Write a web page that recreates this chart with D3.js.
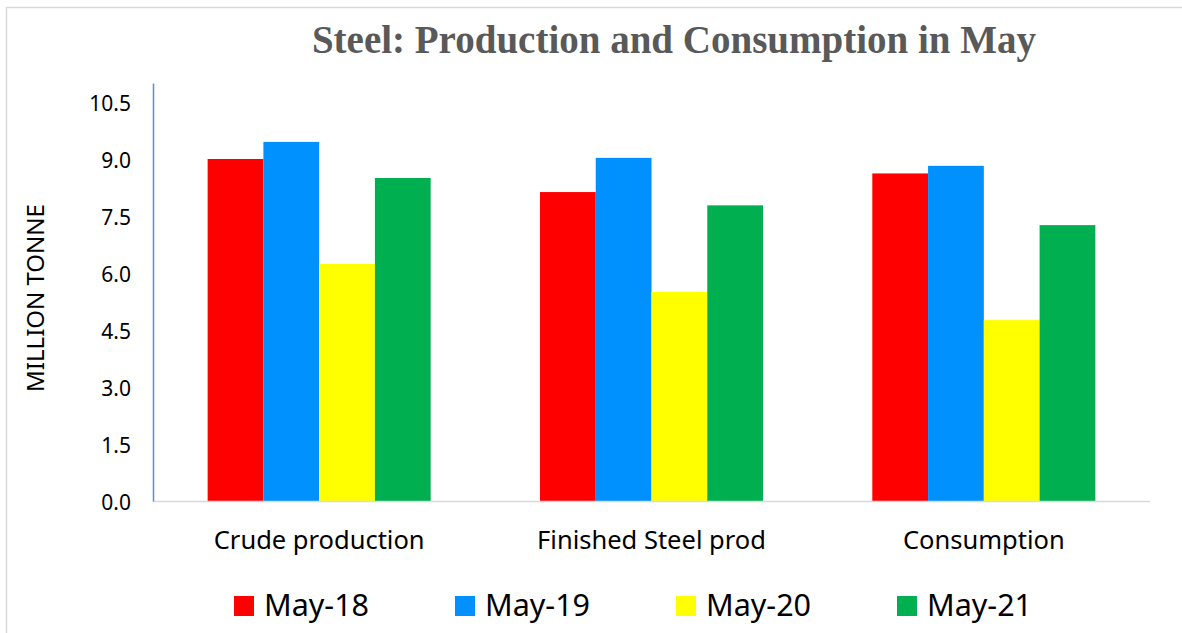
<!DOCTYPE html>
<html>
<head>
<meta charset="utf-8">
<script src="https://cdn.jsdelivr.net/npm/d3@7"></script>
<style>
  html, body { margin: 0; padding: 0; background: #ffffff; }
  svg { display: block; }
</style>
</head>
<body>
<svg id="chart" width="1182" height="633"></svg>
<script>
// chart data
var categories = ['Crude production', 'Finished Steel prod', 'Consumption'];
var seriesNames = ['May-18', 'May-19', 'May-20', 'May-21'];
var seriesColors = ['#ff0000', '#0091ff', '#ffff00', '#00b050'];
var may18 = [9.0, 8.13, 8.62];
var may19 = [9.45, 9.03, 8.82];
var may20 = [6.24, 5.5, 4.76];
var may21 = [8.5, 7.78, 7.26];
var tickValues = [0, 1.5, 3.0, 4.5, 6.0, 7.5, 9.0, 10.5];

var seriesValues = [may18, may19, may20, may21];

var svg = d3.select('#chart');
var font = '"Noto Sans", "Open Sans", sans-serif';

// outer frame
svg.append('rect')
    .attr('x', 6.5).attr('y', 7.5)
    .attr('width', 1190).attr('height', 640)
    .attr('fill', 'none')
    .attr('stroke', '#d9d9d9')
    .attr('stroke-width', 1.5);

var plot = {left: 153, right: 1150, top: 83, bottom: 501};

var x0 = d3.scaleBand()
    .domain(categories)
    .range([plot.left, plot.right])
    .padding(0);

var x1 = d3.scaleBand()
    .domain(seriesNames)
    .range([0, x0.bandwidth()])
    .paddingInner(0)
    .paddingOuter(0.98);

var y = d3.scaleLinear()
    .domain([0, 11])
    .range([plot.bottom, plot.top]);

// title
svg.append('text')
    .attr('x', 674).attr('y', 53)
    .attr('text-anchor', 'middle')
    .attr('font-family', '"Liberation Serif", "DejaVu Serif", serif')
    .attr('font-weight', 'bold')
    .attr('font-size', 39)
    .attr('fill', '#595959')
    .text('Steel: Production and Consumption in May');

// bars
var groups = svg.append('g').selectAll('g')
    .data(categories)
    .join('g')
    .attr('transform', function(d) { return 'translate(' + x0(d) + ',0)'; });

groups.selectAll('rect')
    .data(function(d, i) {
        return seriesNames.map(function(s, j) {
            return {series: s, value: seriesValues[j][i], color: seriesColors[j]};
        });
    })
    .join('rect')
    .attr('x', function(d) { return x1(d.series); })
    .attr('y', function(d) { return y(d.value); })
    .attr('width', x1.bandwidth())
    .attr('height', function(d) { return y(0) - y(d.value); })
    .attr('fill', function(d) { return d.color; });

// x axis baseline
svg.append('line')
    .attr('x1', plot.left).attr('x2', plot.right)
    .attr('y1', plot.bottom + 0.5).attr('y2', plot.bottom + 0.5)
    .attr('stroke', '#d9d9d9')
    .attr('stroke-width', 1.5);

// y axis
var yAxis = svg.append('g')
    .attr('transform', 'translate(' + plot.left + ',0)')
    .call(d3.axisLeft(y).tickValues(tickValues).tickSize(0).tickPadding(22)
        .tickFormat(d3.format('.1f')));
yAxis.select('.domain').attr('stroke', '#5b8ed6').attr('stroke-width', 1.5);
yAxis.selectAll('text')
    .attr('font-family', font)
    .attr('font-size', 21)
    .attr('fill', '#000')
    .attr('dy', '0.42em');

// x axis labels
var xAxis = svg.append('g')
    .attr('transform', 'translate(0,' + plot.bottom + ')')
    .call(d3.axisBottom(x0).tickSize(0).tickPadding(30));
xAxis.select('.domain').remove();
xAxis.selectAll('text')
    .attr('font-family', font)
    .attr('font-size', 25.5)
    .attr('fill', '#000');

// y axis title
svg.append('text')
    .attr('transform', 'translate(44,298) rotate(-90)')
    .attr('text-anchor', 'middle')
    .attr('font-family', font)
    .attr('font-size', 24)
    .attr('fill', '#000')
    .text('MILLION TONNE');

// legend
var legendX = [234, 455, 676, 897];
var legend = svg.append('g').selectAll('g')
    .data(seriesNames)
    .join('g')
    .attr('transform', function(d, i) { return 'translate(' + legendX[i] + ',596)'; });
legend.append('rect')
    .attr('width', 20).attr('height', 20)
    .attr('fill', function(d, i) { return seriesColors[i]; });
legend.append('text')
    .attr('x', 30).attr('y', 20)
    .attr('font-family', font)
    .attr('font-size', 30.5)
    .attr('fill', '#000')
    .text(function(d) { return d; });
</script>
</body>
</html>
